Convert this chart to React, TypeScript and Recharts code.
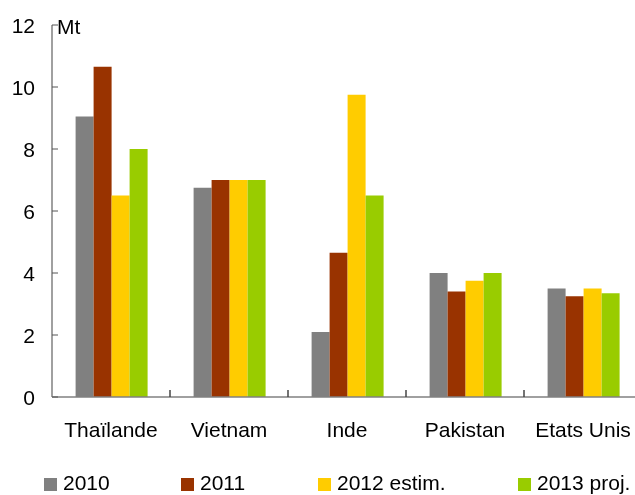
import React from "react";
import { BarChart, Bar, XAxis, YAxis, Legend } from "recharts";

const categories = ["Thaïlande", "Vietnam", "Inde", "Pakistan", "Etats Unis"];
const v2010 = [9.05, 6.75, 2.1, 4.0, 3.5];
const v2011 = [10.65, 7.0, 4.65, 3.4, 3.25];
const v2012 = [6.5, 7.0, 9.75, 3.75, 3.5];
const v2013 = [8.0, 7.0, 6.5, 4.0, 3.35];
const seriesNames = ["2010", "2011", "2012 estim.", "2013 proj."];
const seriesKeys = ["s2010", "s2011", "s2012", "s2013"];
const yTicks = [0, 2, 4, 6, 8, 10, 12];
const unitLabel = "Mt";

const colors = ["#808080", "#993300", "#FFCC00", "#99CC00"];
const legendLeft = [36, 173, 310, 510];

const data = categories.map((name, i) => ({
  name,
  s2010: v2010[i],
  s2011: v2011[i],
  s2012: v2012[i],
  s2013: v2013[i],
}));

const FONT = "'Liberation Sans', Arial, sans-serif";
const CHART_W = 650;
const CHART_H = 487;
const MARGIN = { top: 17, right: 16, bottom: 68, left: 0 };
const Y_W = 44;
const PLOT_W = CHART_W - MARGIN.left - MARGIN.right - Y_W;
const HALF_BAND = PLOT_W / categories.length / 2;

const YTick = (props: any) => {
  const { x, y, payload } = props;
  return (
    <g>
      <line x1={x} x2={x + 6} y1={y} y2={y} stroke="#555" strokeWidth={1} />
      <text x={x - 17} y={y} dy={7.5} textAnchor="end" fontFamily={FONT} fontSize={21} fill="#000">
        {payload.value}
      </text>
      {payload.value === 12 && (
        <text x={x + 5} y={y} dy={9} textAnchor="start" fontFamily={FONT} fontSize={21} fill="#000">
          {unitLabel}
        </text>
      )}
    </g>
  );
};

const XTick = (props: any) => {
  const { x, y, payload } = props;
  return (
    <g>
      <line x1={x + HALF_BAND} x2={x + HALF_BAND} y1={y} y2={y - 7} stroke="#444" strokeWidth={1.5} />
      <text x={x} y={y + 40} textAnchor="middle" fontFamily={FONT} fontSize={21} fill="#000">
        {payload.value}
      </text>
    </g>
  );
};

const renderLegend = () => (
  <div style={{ position: "relative", width: 627, height: 22, fontFamily: FONT, fontSize: 21, lineHeight: "21px", color: "#000" }}>
    {seriesNames.map((n, i) => (
      <div key={n} style={{ position: "absolute", left: legendLeft[i], top: 0, whiteSpace: "nowrap" }}>
        <span style={{ position: "absolute", left: 0, top: 6, width: 13, height: 13, background: colors[i] }} />
        <span style={{ position: "absolute", left: 19, top: 0, whiteSpace: "nowrap" }}>{n}</span>
      </div>
    ))}
  </div>
);

export default function App() {
  return (
    <div style={{ position: "fixed", left: 8, top: 8, width: 627, height: CHART_H, overflow: "hidden" }}>
      <BarChart
        width={CHART_W}
        height={CHART_H}
        data={data}
        margin={MARGIN}
        barCategoryGap="20%"
        barGap={0}
      >
        <XAxis
          dataKey="name"
          height={30}
          interval={0}
          axisLine={{ stroke: "#808080", strokeWidth: 1.5 }}
          tickLine={false}
          tickSize={0}
          tickMargin={0}
          tick={<XTick />}
        />
        <YAxis
          width={Y_W}
          domain={[0, 12]}
          ticks={yTicks}
          interval={0}
          axisLine={{ stroke: "#808080", strokeWidth: 1.5 }}
          tickLine={false}
          tickSize={0}
          tickMargin={0}
          tick={<YTick />}
        />
        {seriesKeys.map((k, i) => (
          <Bar key={k} dataKey={k} name={seriesNames[i]} fill={colors[i]} isAnimationActive={false} />
        ))}
        <Legend
          layout="horizontal"
          verticalAlign="middle"
          align="center"
          content={renderLegend}
          wrapperStyle={{ left: 0, top: 464, width: 627, height: 22 }}
        />
      </BarChart>
    </div>
  );
}
